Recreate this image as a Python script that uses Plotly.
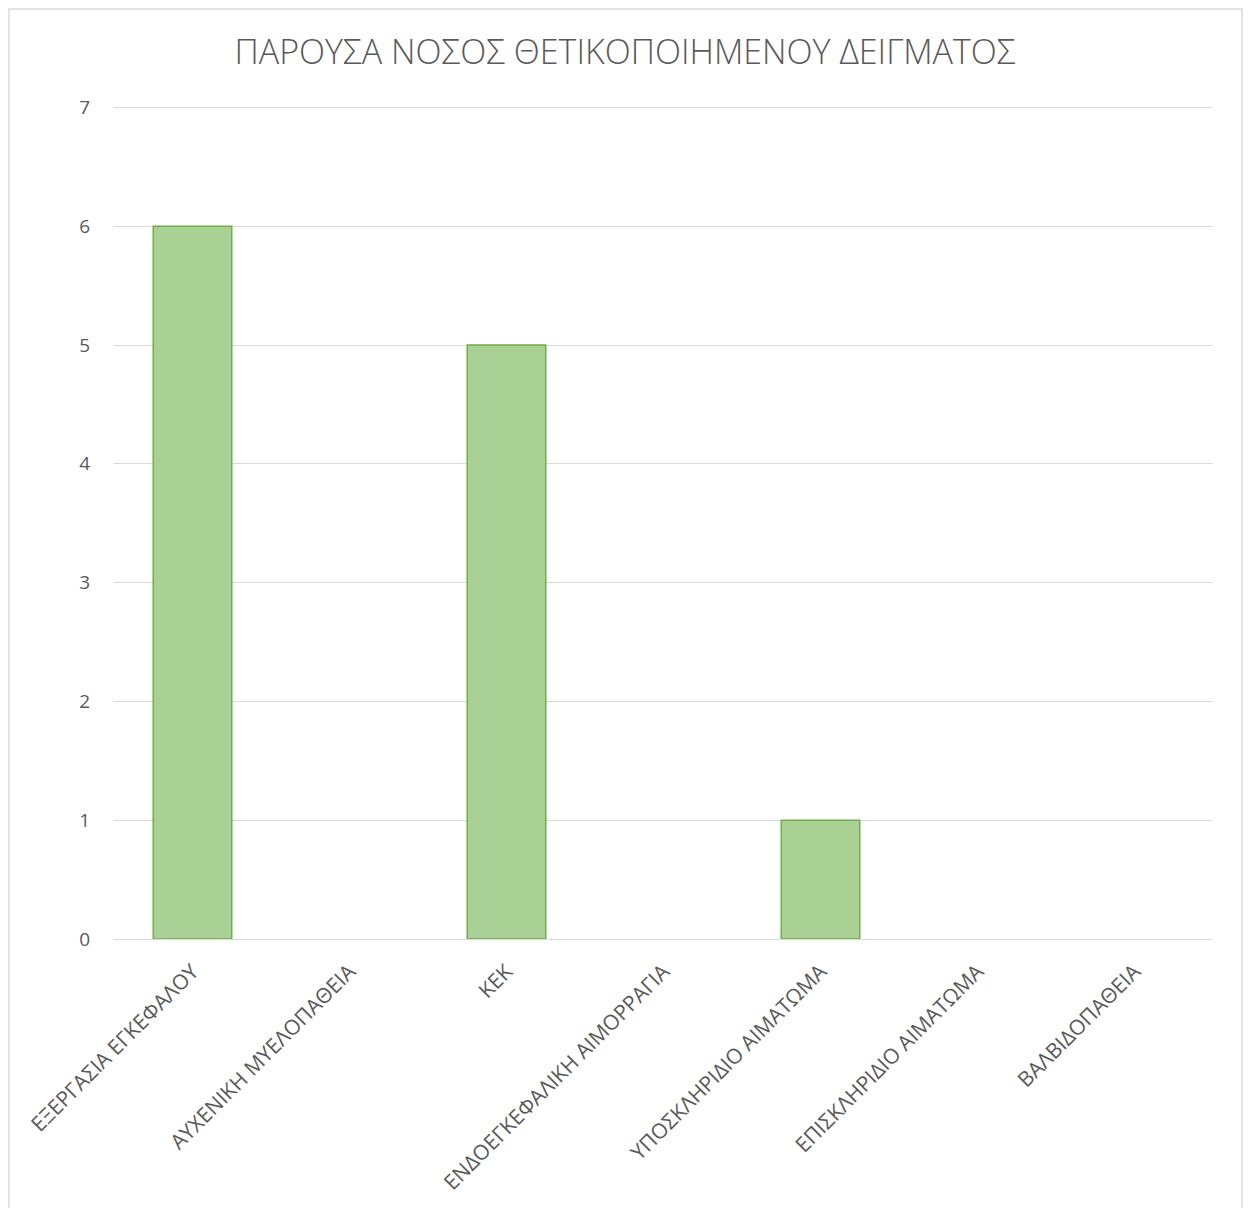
import plotly.graph_objects as go

# Categories and counts
categories = [
    "ΕΞΕΡΓΑΣΙΑ ΕΓΚΕΦΑΛΟΥ",
    "ΑΥΧΕΝΙΚΗ ΜΥΕΛΟΠΑΘΕΙΑ",
    "ΚΕΚ",
    "ΕΝΔΟΕΓΚΕΦΑΛΙΚΗ ΑΙΜΟΡΡΑΓΙΑ",
    "ΥΠΟΣΚΛΗΡΙΔΙΟ ΑΙΜΑΤΩΜΑ",
    "ΕΠΙΣΚΛΗΡΙΔΙΟ ΑΙΜΑΤΩΜΑ",
    "ΒΑΛΒΙΔΟΠΑΘΕΙΑ",
]
counts = [6, 0, 5, 0, 1, 0, 0]
y_ticks = [0, 1, 2, 3, 4, 5, 6, 7]

title_text = "ΠΑΡΟΥΣΑ ΝΟΣΟΣ ΘΕΤΙΚΟΠΟΙΗΜΕΝΟΥ ΔΕΙΓΜΑΤΟΣ"

W, H = 1250, 1208
L, R, T, B = 114, 37, 106, 269
pw, ph = W - L - R, H - T - B
Y_TOP = 7.012  # a touch of headroom so the top gridline is drawn

def px_x(x):
    return (x - L) / pw

def px_y(y):
    return (H - B - y) / ph

# no outline on empty bars
edge_widths = [1.5 if v > 0 else 0 for v in counts]

fig = go.Figure()
fig.add_trace(go.Bar(
    x=categories,
    y=counts,
    marker=dict(color="#A9D095", line=dict(color="#70AD47", width=edge_widths)),
    width=0.5,
    hoverinfo="x+y",
))

fig.update_layout(
    width=W,
    height=H,
    margin=dict(l=L, r=R, t=T, b=B, pad=0),
    paper_bgcolor="white",
    plot_bgcolor="white",
    showlegend=False,
    font=dict(family="Open Sans, sans-serif", color="#595959"),
    title=dict(
        text=title_text,
        x=0.5,
        xanchor="center",
        y=1 - 52 / H,
        yanchor="middle",
        font=dict(size=34, color="#595959", family="Open Sans, sans-serif", weight=300),
    ),
    xaxis=dict(
        type="category",
        tickangle=-45,
        tickfont=dict(size=21, color="#595959"),
        showgrid=False,
        showline=False,
        ticks="outside",
        ticklen=11,
        tickcolor="rgba(0,0,0,0)",
        zeroline=False,
    ),
    yaxis=dict(
        range=[0, Y_TOP],
        tickvals=y_ticks,
        tickfont=dict(size=19, color="#595959"),
        showgrid=True,
        gridcolor="#D9D9D9",
        gridwidth=1.3,
        zeroline=True,
        zerolinecolor="#D9D9D9",
        zerolinewidth=1.3,
        showline=False,
        ticks="outside",
        ticklen=19,
        tickcolor="rgba(0,0,0,0)",
    ),
    shapes=[
        dict(
            type="rect",
            xref="paper",
            yref="paper",
            x0=px_x(9),
            x1=px_x(1242),
            y0=px_y(9),
            y1=px_y(1215),
            line=dict(color="#D9D9D9", width=1.5),
            fillcolor="rgba(0,0,0,0)",
            layer="below",
        )
    ],
)

fig.write_html("out.html")
